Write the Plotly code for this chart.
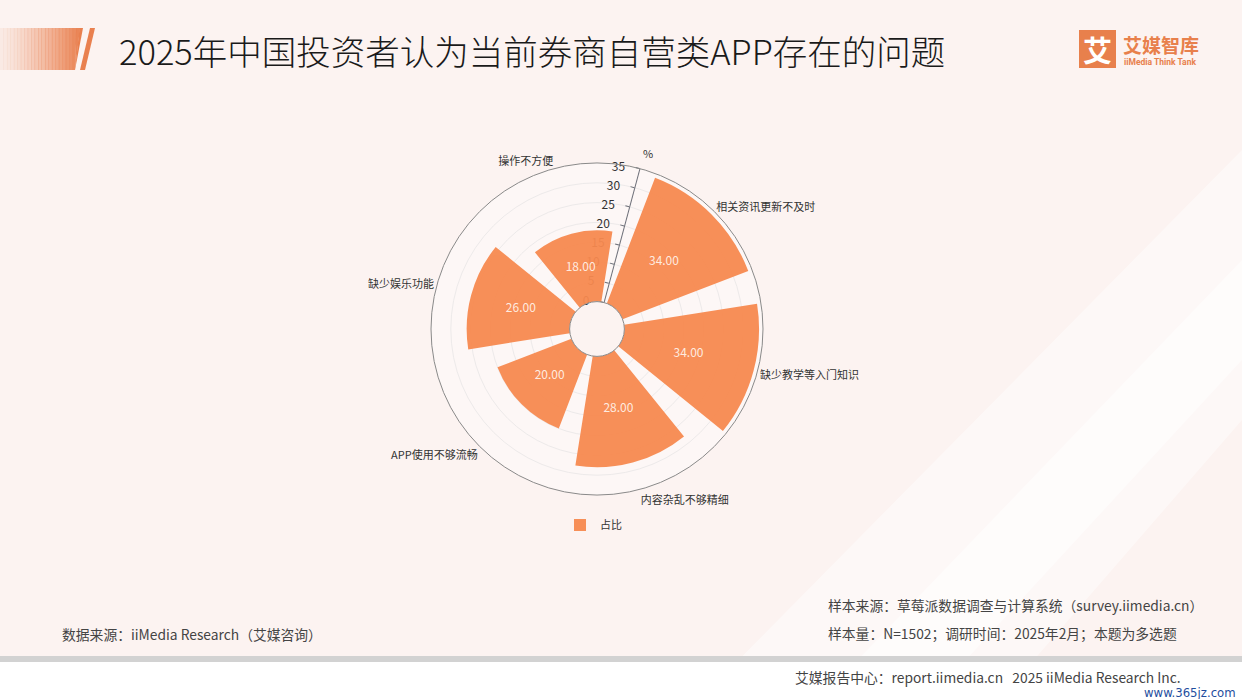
import plotly.graph_objects as go

W, H = 1242, 699

categories = ["操作不方便", "相关资讯更新不及时", "缺少教学等入门知识",
              "内容杂乱不够精细", "APP使用不够流畅", "缺少娱乐功能"]
values = [18, 34, 34, 28, 20, 26]
series_name = "占比"
radial_ticks = [0, 5, 10, 15, 20, 25, 30, 35]

title = "2025年中国投资者认为当前券商自营类APP存在的问题"
src_left = "数据来源：iiMedia Research（艾媒咨询）"
src_right1 = "样本来源：草莓派数据调查与计算系统（survey.iimedia.cn）"
src_right2 = "样本量：N=1502；调研时间：2025年2月；本题为多选题"
footer = "艾媒报告中心：report.iimedia.cn   2025 iiMedia Research Inc."

BAR = "#F78A50"
FONT = "Noto Sans CJK SC"

def px(x):
    return x / W

def py(y):
    return 1 - y / H

fig = go.Figure()
fig.add_trace(go.Barpolar(
    r=values, theta=categories, name=series_name,
    marker=dict(color=BAR, line=dict(width=0)), opacity=0.95,
))
fig.add_trace(go.Scatterpolar(
    r=[v / 2 for v in values], theta=categories, mode="text",
    text=[f"{v:.2f}" for v in values],
    textfont=dict(color="rgba(255,245,238,0.92)", size=12, family=FONT),
    showlegend=False, hoverinfo="skip",
))

shapes = []
# background glow
shapes.append(dict(type="path", xref="paper", yref="paper",
                   path=f"M {px(700)},{py(699)} L {px(1242)},{py(150)} L {px(1242)},{py(420)} L {px(1000)},{py(699)} Z",
                   fillcolor="rgba(255,255,255,0.45)", line=dict(width=0), layer="below"))
shapes.append(dict(type="path", xref="paper", yref="paper",
                   path=f"M {px(820)},{py(699)} L {px(1242)},{py(260)} L {px(1242)},{py(360)} L {px(930)},{py(699)} Z",
                   fillcolor="rgba(255,255,255,0.5)", line=dict(width=0), layer="below"))
# title decoration gradient block
n = 24
for i in range(n):
    x0 = 83 * i / n
    x1 = 83 * (i + 1) / n + 0.5
    a = 0.08 + 0.92 * (i / (n - 1)) ** 1.3
    path = (f"M {px(x0)},{py(28)} L {px(min(x1, 83))},{py(28)} "
            f"L {px(min(x1, 75))},{py(70)} L {px(min(x0, 75))},{py(70)} Z")
    shapes.append(dict(type="path", xref="paper", yref="paper", path=path,
                       fillcolor=f"rgba(233,128,79,{a:.3f})", line=dict(width=0), layer="below"))
shapes.append(dict(type="path", xref="paper", yref="paper",
                   path=f"M {px(80)},{py(70)} L {px(85)},{py(70)} L {px(95)},{py(28)} L {px(90)},{py(28)} Z",
                   fillcolor="#E9804F", line=dict(width=0), layer="below"))
# logo square
shapes.append(dict(type="rect", xref="paper", yref="paper",
                   x0=px(1079), x1=px(1116), y0=py(68), y1=py(30),
                   fillcolor="#E8804C", line=dict(width=0), layer="below"))
# footer band
shapes.append(dict(type="rect", xref="paper", yref="paper",
                   x0=0, x1=1, y0=py(662), y1=py(656),
                   fillcolor="#D2D2D2", line=dict(width=0), layer="below"))
shapes.append(dict(type="rect", xref="paper", yref="paper",
                   x0=0, x1=1, y0=0, y1=py(662),
                   fillcolor="#FFFFFF", line=dict(width=0), layer="below"))

ann = []
ann.append(dict(text=title, x=px(117), y=py(50), xref="paper", yref="paper",
                xanchor="left", yanchor="middle", showarrow=False,
                font=dict(size=34.5, color="#1A1A1A", family=FONT, weight=300)))
ann.append(dict(text="<b>艾</b>", x=px(1097.5), y=py(49), xref="paper", yref="paper",
                xanchor="center", yanchor="middle", showarrow=False,
                font=dict(size=29, color="#FFFFFF", family=FONT)))
ann.append(dict(text="<b>艾媒智库</b>", x=px(1121), y=py(44), xref="paper", yref="paper",
                xanchor="left", yanchor="middle", showarrow=False,
                font=dict(size=19, color="#E8804C", family=FONT)))
ann.append(dict(text="<b>iiMedia Think Tank</b>", x=px(1122), y=py(62), xref="paper", yref="paper",
                xanchor="left", yanchor="middle", showarrow=False,
                font=dict(size=8.5, color="#E8804C", family="Roboto")))
ann.append(dict(text="%", x=px(648), y=py(153), xref="paper", yref="paper",
                xanchor="center", yanchor="middle", showarrow=False,
                font=dict(size=11, color="#333333", family=FONT)))
ann.append(dict(text=src_left, x=px(60), y=py(634), xref="paper", yref="paper",
                xanchor="left", yanchor="middle", showarrow=False,
                font=dict(size=13.8, color="#444444", family=FONT)))
ann.append(dict(text=src_right1, x=px(826), y=py(605), xref="paper", yref="paper",
                xanchor="left", yanchor="middle", showarrow=False,
                font=dict(size=13.8, color="#444444", family=FONT)))
ann.append(dict(text=src_right2, x=px(826), y=py(633), xref="paper", yref="paper",
                xanchor="left", yanchor="middle", showarrow=False,
                font=dict(size=13.8, color="#444444", family=FONT)))
ann.append(dict(text=footer, x=px(793), y=py(677), xref="paper", yref="paper",
                xanchor="left", yanchor="middle", showarrow=False,
                font=dict(size=13.8, color="#444444", family=FONT)))
ann.append(dict(text="www.365jz.com", x=px(1238), y=py(692), xref="paper", yref="paper",
                xanchor="right", yanchor="middle", showarrow=False,
                font=dict(size=13, color="#1F4E9E", family="DejaVu Sans Condensed")))

cx, cy, R = 597, 329, 166
fig.update_layout(
    width=W, height=H,
    margin=dict(l=0, r=0, t=0, b=0),
    paper_bgcolor="#FCF3F1",
    plot_bgcolor="#FCF3F1",
    font=dict(family=FONT, color="#333333"),
    shapes=shapes,
    annotations=ann,
    showlegend=True,
    legend=dict(x=px(560), y=py(525), xanchor="left", yanchor="middle",
                orientation="h", bgcolor="rgba(0,0,0,0)",
                font=dict(size=11, color="#333333", family=FONT),
                itemsizing="constant"),
    polar=dict(
        domain=dict(x=[px(cx - R), px(cx + R)], y=[py(cy + R), py(cy - R)]),
        hole=0.165,
        bargap=0.2,
        bgcolor="rgba(255,255,255,0.35)",
        angularaxis=dict(
            direction="clockwise", rotation=105,
            showline=True, linecolor="#8A8A8A", linewidth=1,
            showgrid=False, ticks="",
            tickfont=dict(size=11, color="#333333", family=FONT),
        ),
        radialaxis=dict(
            range=[0, 35], tickvals=radial_ticks, angle=75,
            side="counterclockwise", tickangle=75,
            showline=True, linecolor="#6E7079", linewidth=1,
            ticks="outside", ticklen=4, tickcolor="#6E7079",
            gridcolor="#EDEAEA", gridwidth=1,
            layer="below traces",
            tickfont=dict(size=12, color="#333333", family=FONT),
        ),
    ),
)

fig.write_html("out.html", config={"displayModeBar": False},
               post_script="document.body.style.margin='0';document.body.style.padding='0';")
